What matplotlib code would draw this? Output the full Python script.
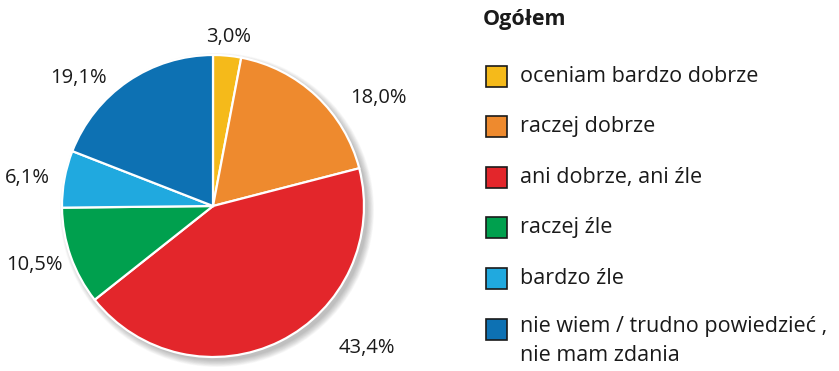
import matplotlib.pyplot as plt
from matplotlib.patches import Circle, Rectangle

plt.rcParams['font.family'] = ['Open Sans', 'DejaVu Sans']

title = 'Ogółem'
categories = ['oceniam bardzo dobrze', 'raczej dobrze', 'ani dobrze, ani źle',
              'raczej źle', 'bardzo źle', 'nie wiem / trudno powiedzieć ,\nnie mam zdania']
values = [3.0, 18.0, 43.4, 10.5, 6.1, 19.1]
colors = ['#F5BA1A', '#EE8A2E', '#E3262B', '#00A04E', '#20A9DF', '#0D71B3']

# label anchor points (pixels, from top-left) for the percentages
label_pos = [(229, 37), (378, 98), (367, 348), (34, 265), (27, 178), (78, 78)]

W, H = 839, 371
fig = plt.figure(figsize=(W / 100, H / 100), dpi=100)
ax = fig.add_axes([0, 0, 1, 1])

cx, cy, r = 213, H - 206, 151

# soft drop shadow behind the pie
for i in range(12):
    ax.add_patch(Circle((cx + 4, cy - 4), r + 6 - i * 0.6, color='#555555',
                        alpha=0.035, lw=0, zorder=0))

ax.pie(values, colors=colors, center=(cx, cy), radius=r, startangle=90,
       counterclock=False, wedgeprops=dict(edgecolor='white', linewidth=1.6),
       frame=True)
ax.set_xlim(0, W)
ax.set_ylim(0, H)
ax.set_aspect('equal')
ax.axis('off')

for v, (x, y) in zip(values, label_pos):
    ax.text(x, H - y, f'{v:.1f}%'.replace('.', ','), ha='center', va='center',
            fontsize=14.5, color='#1a1a1a')

# legend
ax.text(483, H - 20, title, ha='left', va='center', fontsize=15.5,
        fontweight='bold', color='#1a1a1a')
y0, step = 76, 50.6
for i, (lab, c) in enumerate(zip(categories, colors)):
    yc = H - (y0 + i * step)
    ax.add_patch(Rectangle((486, yc - 10.5), 21, 21, facecolor=c,
                           edgecolor='#1a1a1a', lw=1.2))
    if '\n' in lab:
        ax.text(520, yc + 13, lab, ha='left', va='top', fontsize=15.5,
                color='#1a1a1a', linespacing=1.5)
    else:
        ax.text(520, yc, lab, ha='left', va='center', fontsize=15.5,
                color='#1a1a1a')

fig.savefig('out.png', dpi=100)
